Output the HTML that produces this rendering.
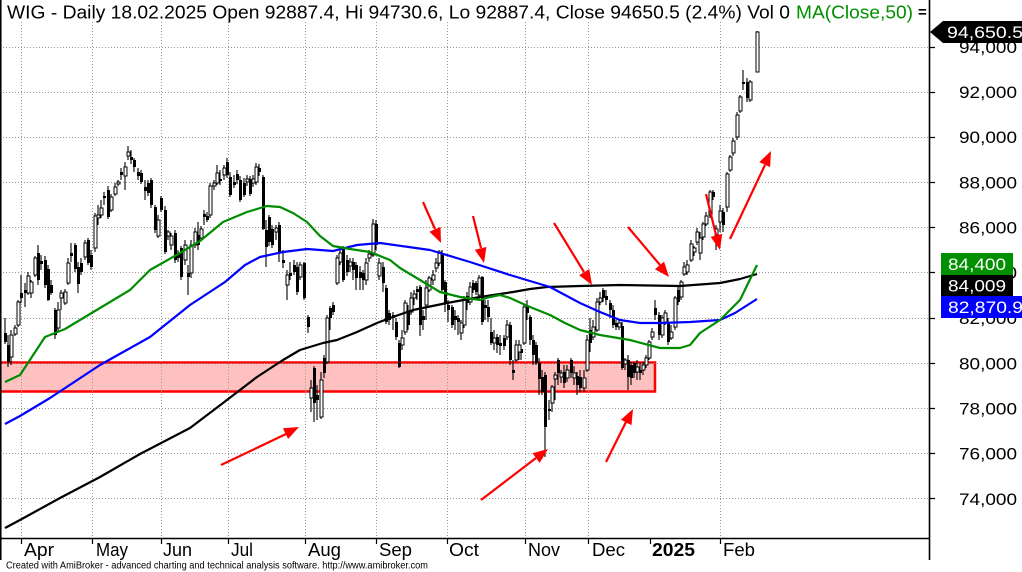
<!DOCTYPE html>
<html><head><meta charset="utf-8"><style>
html,body{margin:0;padding:0;background:#fff;}
svg{display:block;font-family:"Liberation Sans",Arial,sans-serif;}
</style></head><body>
<svg width="1022" height="572" viewBox="0 0 1022 572" xmlns="http://www.w3.org/2000/svg">
<rect width="1022" height="572" fill="#fff"/>
<!-- red support box -->
<rect x="0" y="362.5" width="655" height="29" fill="#ffc0c0" stroke="#ff0000" stroke-width="2.5"/>
<!-- grid -->
<g stroke="#999" stroke-width="1" stroke-dasharray="1 2" fill="none">
<path d="M0 47.5H929M0 92.5H929M0 137.5H929M0 182.5H929M0 227.5H929M0 272.5H929M0 318.5H929M0 363.5H929M0 408.5H929M0 453.5H929M0 498.5H929"/>
<path d="M21.5 22V538M92.5 22V538M161.5 22V538M228.5 22V538M305.5 22V538M376.5 22V538M447.5 22V538M525.5 22V538M588.5 22V538M720.5 22V538"/>
</g>
<!-- candles -->
<path fill="none" stroke="#000" stroke-width="1.1" d="M5 318V344M8 335V367M11 330V365M15 325V336M18 300V327M21 275V303M25 283V307M28 272V295M31 280V298M35 256V277M38 245V285M41 255V270M45 256V288M48 265V301M51 280V295M55 308V339M58 302V331M61 290V310M65 289V305M68 258V285M71 243V262M75 243V272M78 262V293M81 258V275M85 240V260M88 238V265M91 250V270M95 213V252M98 205V225M101 200V218M104 192V205M108 186V219M111 194V212M115 183V196M118 180V186M121 168V180M125 162V190M128 146V160M131 150V164M134 158V172M138 168V180M141 170V184M145 180V200M148 180V196M151 178V208M155 205V233M158 215V238M161 196V212M165 206V254M168 230V240M171 233V250M175 230V263M178 250V262M181 246V280M185 240V265M188 265V295M191 240V278M195 228V248M198 222V250M201 226V240M204 210V225M207 212V222M210 183V218M214 180V190M217 165V185M220 170V185M224 165V180M227 158V178M230 172V197M234 175V188M237 170V184M240 176V202M244 178V197M247 175V186M250 176V196M253 175V187M256 163V185M259 164V176M263 175V230M266 220V267M269 215V246M272 225V248M276 225V240M279 222V262M283 250V268M287 270V300M290 262V280M294 260V275M297 262V295M300 262V280M304 262V300M308 315V333M311 380V412M314 366V422M317 385V420M321 372V419M324 355V378M327 315V364M330 306V330M333 302V315M337 255V285M340 250V265M343 246V282M347 255V276M350 258V272M353 258V280M356 262V290M360 266V290M363 270V290M366 258V285M369 250V262M373 219V257M376 220V250M379 258V280M383 262V292M386 285V324M389 310V325M393 312V330M396 318V340M399 340V368M402 330V350M405 300V335M408 305V330M411 292V315M414 290V305M417 286V300M420 285V336M423 310V330M426 280V320M429 276V292M433 270V285M436 258V272M439 250V266M442 250V292M445 280V312M448 300V322M452 305V328M455 310V330M458 315V335M461 320V340M464 296V328M467 292V310M470 282V305M473 280V293M476 281V295M479 275V300M482 276V325M485 300V320M488 300V322M491 318V345M494 330V350M497 334V353M500 335V355M504 335V350M507 320V340M510 322V365M513 360V380M516 340V362M519 340V360M521 345V360M524 304V345M527 300V320M530 315V345M533 335V365M536 342V365M539 358V395M542 370V395M545 372V457M549 400V420M552 385V412M555 372V400M558 358V385M561 370V383M564 365V388M567 365V382M571 358V378M574 366V385M577 372V395M580 370V392M584 370V392M587 335V372M590 318V352M593 320V340M597 298V332M600 292V305M603 288V302M606 290V305M610 300V318M613 305V328M616 320V330M619 320V330M622 322V370M625 358V370M628 355V390M631 362V385M634 362V378M637 360V380M640 362V380M643 362V375M646 355V368M649 340V360M652 328V340M655 300V320M659 312V340M662 315V338M665 310V325M668 318V345M671 325V340M675 296V330M678 287V305M681 280V300M684 262V276M687 260V275M691 240V262M694 246V256M697 228V245M700 232V260M703 222V240M706 212V226M710 190V218M713 190V200M716 225V250M720 205V232M723 208V232M727 172V212M730 155V172M733 138V156M737 112V140M740 95V113M743 70V90M747 78V102M750 80V102M757 31V72"/>
<path fill="#000" d="M4 333h3v9h-3zM7 345h3v17h-3zM20 293h3v5h-3zM24 290h3v3h-3zM37 253h3v27h-3zM40 261h3v3h-3zM44 260h3v25h-3zM47 269h3v31h-3zM50 285h3v8h-3zM54 310h3v25h-3zM70 253h3v3h-3zM74 245h3v24h-3zM77 267h3v17h-3zM80 263h3v9h-3zM87 240h3v23h-3zM90 255h3v12h-3zM103 196h3v2h-3zM107 190h3v27h-3zM120 172h3v3h-3zM130 157h3v3h-3zM133 160h3v7h-3zM137 172h3v4h-3zM140 173h3v9h-3zM144 187h3v4h-3zM147 183h3v10h-3zM150 180h3v25h-3zM154 207h3v23h-3zM160 198h3v12h-3zM164 210h3v42h-3zM174 233h3v27h-3zM177 253h3v5h-3zM180 248h3v29h-3zM187 273h3v4h-3zM197 235h3v10h-3zM203 214h3v3h-3zM206 216h3v4h-3zM219 179h3v2h-3zM226 162h3v13h-3zM229 177h3v18h-3zM233 182h3v3h-3zM236 174h3v6h-3zM239 180h3v20h-3zM243 183h3v12h-3zM249 179h3v15h-3zM258 168h3v4h-3zM262 177h3v52h-3zM265 230h3v17h-3zM268 217h3v25h-3zM271 229h3v16h-3zM278 225h3v27h-3zM282 260h3v3h-3zM289 273h3v3h-3zM293 265h3v7h-3zM296 267h3v25h-3zM303 263h3v35h-3zM307 317h3v10h-3zM313 368h3v35h-3zM316 395h3v5h-3zM323 358h3v15h-3zM329 308h3v10h-3zM332 305h3v7h-3zM342 248h3v32h-3zM346 260h3v12h-3zM352 262h3v8h-3zM355 265h3v13h-3zM359 272h3v6h-3zM362 273h3v7h-3zM375 224h3v21h-3zM382 267h3v16h-3zM385 288h3v34h-3zM388 313h3v7h-3zM392 315h3v3h-3zM395 322h3v15h-3zM398 343h3v24h-3zM407 312h3v13h-3zM416 289h3v3h-3zM419 287h3v38h-3zM422 316h3v4h-3zM441 255h3v35h-3zM444 282h3v21h-3zM447 305h3v5h-3zM451 307h3v18h-3zM454 316h3v4h-3zM457 318h3v4h-3zM466 296h3v7h-3zM472 283h3v7h-3zM475 283h3v9h-3zM481 277h3v45h-3zM484 305h3v3h-3zM487 307h3v10h-3zM490 332h3v11h-3zM496 337h3v8h-3zM499 343h3v3h-3zM503 338h3v8h-3zM509 325h3v35h-3zM512 370h3v3h-3zM520 349h3v4h-3zM526 307h3v6h-3zM529 317h3v23h-3zM532 340h3v15h-3zM535 345h3v18h-3zM538 363h3v16h-3zM541 377h3v15h-3zM544 375h3v52h-3zM548 409h3v2h-3zM557 360h3v13h-3zM563 372h3v11h-3zM570 360h3v13h-3zM576 376h3v9h-3zM579 377h3v11h-3zM589 330h3v13h-3zM602 290h3v8h-3zM605 296h3v4h-3zM609 303h3v7h-3zM612 310h3v15h-3zM615 323h3v4h-3zM621 326h3v42h-3zM627 360h3v17h-3zM630 365h3v13h-3zM633 363h3v10h-3zM639 370h3v3h-3zM654 308h3v7h-3zM658 315h3v20h-3zM667 323h3v19h-3zM677 290h3v12h-3zM712 192h3v5h-3zM722 212h3v13h-3zM742 82h3v2h-3zM746 82h3v16h-3z"/>
<path fill="#fff" stroke="#000" stroke-width="1" d="M10 335h3v22h-3zM14 328h3v6h-3zM17 302h3v23h-3zM27 276h3v17h-3zM30 282h3v11h-3zM34 258h3v17h-3zM57 310h3v18h-3zM60 293h3v5h-3zM64 292h3v11h-3zM67 263h3v20h-3zM84 243h3v14h-3zM94 216h3v32h-3zM97 215h3v3h-3zM100 208h3v7h-3zM110 197h3v13h-3zM114 187h3v7h-3zM117 182h3v2h-3zM124 167h3v9h-3zM127 152h3v4h-3zM157 220h3v16h-3zM167 232h3v4h-3zM170 236h3v9h-3zM184 245h3v15h-3zM190 245h3v28h-3zM194 232h3v13h-3zM200 229h3v9h-3zM209 186h3v29h-3zM213 183h3v3h-3zM216 173h3v10h-3zM223 168h3v7h-3zM246 179h3v3h-3zM252 179h3v4h-3zM255 167h3v15h-3zM275 228h3v4h-3zM286 275h3v10h-3zM299 265h3v12h-3zM310 388h3v10h-3zM320 380h3v37h-3zM326 318h3v44h-3zM336 258h3v25h-3zM339 253h3v9h-3zM349 262h3v4h-3zM365 263h3v17h-3zM368 254h3v4h-3zM372 224h3v31h-3zM378 263h3v13h-3zM401 338h3v7h-3zM404 303h3v29h-3zM410 298h3v14h-3zM413 294h3v4h-3zM425 288h3v17h-3zM428 278h3v12h-3zM432 275h3v5h-3zM435 263h3v5h-3zM438 252h3v11h-3zM460 323h3v10h-3zM463 300h3v25h-3zM469 287h3v15h-3zM478 278h3v17h-3zM493 338h3v5h-3zM506 325h3v12h-3zM515 345h3v15h-3zM518 345h3v7h-3zM523 307h3v36h-3zM551 387h3v16h-3zM554 375h3v4h-3zM560 373h3v4h-3zM566 370h3v8h-3zM573 373h3v5h-3zM583 378h3v10h-3zM586 340h3v30h-3zM592 327h3v10h-3zM596 302h3v28h-3zM599 298h3v4h-3zM618 323h3v4h-3zM624 360h3v4h-3zM636 367h3v5h-3zM642 365h3v5h-3zM645 358h3v7h-3zM648 342h3v16h-3zM651 332h3v5h-3zM661 318h3v17h-3zM664 313h3v9h-3zM670 332h3v6h-3zM674 298h3v29h-3zM680 282h3v15h-3zM683 267h3v7h-3zM686 265h3v7h-3zM690 244h3v16h-3zM693 248h3v4h-3zM696 232h3v10h-3zM699 238h3v15h-3zM702 224h3v13h-3zM705 216h3v8h-3zM709 192h3v23h-3zM715 229h3v6h-3zM719 211h3v11h-3zM726 174h3v33h-3zM729 157h3v13h-3zM732 141h3v12h-3zM736 115h3v22h-3zM739 97h3v14h-3zM749 82h3v18h-3zM756 32h3v40h-3z"/>
<!-- moving averages -->
<polyline fill="none" stroke="#000" stroke-width="2.2" stroke-linejoin="round" points="5,528 20,520 60,498 100,477 140,454 190,428 223,403 257,377 283,360 300,350 323,343 337,340 357,332 377,323 390,318 413,310 447,303 480,297 513,292 530,289 547,287 580,286 620,285 680,286 720,283 740,279 757,274"/>
<polyline fill="none" stroke="#0000ff" stroke-width="2.2" stroke-linejoin="round" points="5,424 20,416 50,398 100,365 150,337 190,305 225,282 245,265 260,257 283,252 307,249 333,251 357,245 380,243 430,250 470,262 510,275 550,287 580,303 600,312 620,320 640,323 660,323 690,322 720,320 735,313 757,299"/>
<polyline fill="none" stroke="#008c00" stroke-width="2.2" stroke-linejoin="round" points="5,382 20,375 45,337 65,329 90,314 130,290 150,270 180,253 200,241 223,222 247,212 267,206 280,207 293,213 307,222 320,236 333,246 350,249 370,252 390,260 400,268 420,280 440,292 460,297 480,300 490,297 500,295 510,298 530,307 550,315 565,323 580,330 600,335 630,340 660,348 680,348 690,345 700,333 720,320 740,300 757,265"/>
<!-- arrows -->
<g stroke="#ff0000" stroke-width="2.2" fill="none">
<path d="M221 465L286 434M481 500L536 458M606 462L626 422M730 239L765 165M423 202L435 229M473 216L481 248M554 223L584 272M628 227L660 265M706 194L716 235"/>
</g>
<g fill="#ff0000">
<polygon points="299,427 288.1,439 282.9,428.2"/>
<polygon points="548,449 539.7,462.9 532.5,453.3"/>
<polygon points="633,409 631.5,425.1 620.9,419.7"/>
<polygon points="771,151 770.1,167.1 759.3,162.1"/>
<polygon points="441,243 429.5,231.7 440.5,226.9"/>
<polygon points="484,263 474.8,249.8 486.4,247"/>
<polygon points="592,285 579.1,275.3 589.3,269.1"/>
<polygon points="669,277 654.9,269.2 664.1,261.6"/>
<polygon points="720,250 710.6,236.9 722.2,233.9"/>
</g>
<!-- frame / axes -->
<rect x="0" y="0" width="929" height="22" fill="none"/>
<path d="M0.75 0V560M929.5 0V560M0 538.5H929" stroke="#000" stroke-width="1.6" fill="none"/>
<path d="M929 47.5h6M929 92.5h6M929 137.5h6M929 182.5h6M929 227.5h6M929 272.5h6M929 318.5h6M929 363.5h6M929 408.5h6M929 453.5h6M929 498.5h6" stroke="#000" stroke-width="1.2"/>
<path d="M21.5 538v6M92.5 538v6M161.5 538v6M228.5 538v6M305.5 538v6M376.5 538v6M447.5 538v6M525.5 538v6M588.5 538v6M650.5 538v6M720.5 538v6" stroke="#000" stroke-width="1.2"/>
<!-- title -->
<text x="7" y="18.5" font-size="18" fill="#000" textLength="783" lengthAdjust="spacingAndGlyphs">WIG - Daily 18.02.2025 Open 92887.4, Hi 94730.6, Lo 92887.4, Close 94650.5 (2.4%) Vol 0</text>
<text x="796" y="18.5" font-size="18" fill="#009000" textLength="117" lengthAdjust="spacingAndGlyphs">MA(Close,50)</text>
<text x="918" y="17" font-size="15" font-weight="bold" fill="#000">=</text>
<!-- right axis labels -->
<g font-size="17" fill="#000">
<text x="959" y="53" textLength="58" lengthAdjust="spacingAndGlyphs">94,000</text>
<text x="959" y="98" textLength="58" lengthAdjust="spacingAndGlyphs">92,000</text>
<text x="959" y="143" textLength="58" lengthAdjust="spacingAndGlyphs">90,000</text>
<text x="959" y="188.5" textLength="58" lengthAdjust="spacingAndGlyphs">88,000</text>
<text x="959" y="233.5" textLength="58" lengthAdjust="spacingAndGlyphs">86,000</text>
<text x="959" y="278.5" textLength="58" lengthAdjust="spacingAndGlyphs">84,000</text>
<text x="959" y="324" textLength="58" lengthAdjust="spacingAndGlyphs">82,000</text>
<text x="959" y="369.5" textLength="58" lengthAdjust="spacingAndGlyphs">80,000</text>
<text x="959" y="414.5" textLength="58" lengthAdjust="spacingAndGlyphs">78,000</text>
<text x="959" y="459.5" textLength="58" lengthAdjust="spacingAndGlyphs">76,000</text>
<text x="959" y="505" textLength="58" lengthAdjust="spacingAndGlyphs">74,000</text>
</g>
<!-- value boxes -->
<polygon points="930,32 943,21 1022,21 1022,43 943,43" fill="#000"/>
<text x="947" y="38" font-size="17" fill="#fff" textLength="76" lengthAdjust="spacingAndGlyphs">94,650.5</text>
<rect x="941" y="253" width="72" height="22" fill="#009000"/>
<text x="948" y="270" font-size="17" fill="#fff" textLength="58" lengthAdjust="spacingAndGlyphs">84,400</text>
<rect x="941" y="275" width="72" height="21" fill="#000"/>
<text x="948" y="291.5" font-size="17" fill="#fff" textLength="58" lengthAdjust="spacingAndGlyphs">84,009</text>
<rect x="941" y="296" width="81" height="22" fill="#0000ff"/>
<text x="948" y="313" font-size="17" fill="#fff" textLength="75" lengthAdjust="spacingAndGlyphs">82,870.9</text>
<!-- x axis labels -->
<g font-size="18" fill="#000">
<text x="24" y="556" textLength="30" lengthAdjust="spacingAndGlyphs">Apr</text>
<text x="96" y="556" textLength="32" lengthAdjust="spacingAndGlyphs">May</text>
<text x="163" y="556" textLength="29" lengthAdjust="spacingAndGlyphs">Jun</text>
<text x="231" y="556" textLength="22" lengthAdjust="spacingAndGlyphs">Jul</text>
<text x="308" y="556" textLength="33" lengthAdjust="spacingAndGlyphs">Aug</text>
<text x="379" y="556" textLength="33" lengthAdjust="spacingAndGlyphs">Sep</text>
<text x="449" y="556" textLength="30" lengthAdjust="spacingAndGlyphs">Oct</text>
<text x="528" y="556" textLength="32" lengthAdjust="spacingAndGlyphs">Nov</text>
<text x="592" y="556" textLength="33" lengthAdjust="spacingAndGlyphs">Dec</text>
<text x="652" y="556" font-weight="bold" textLength="43" lengthAdjust="spacingAndGlyphs">2025</text>
<text x="723" y="556" textLength="32" lengthAdjust="spacingAndGlyphs">Feb</text>
</g>
<text x="6" y="568.5" font-size="10" fill="#000" textLength="422" lengthAdjust="spacingAndGlyphs">Created with AmiBroker - advanced charting and technical analysis software. http://www.amibroker.com</text>
</svg>
</body></html>
